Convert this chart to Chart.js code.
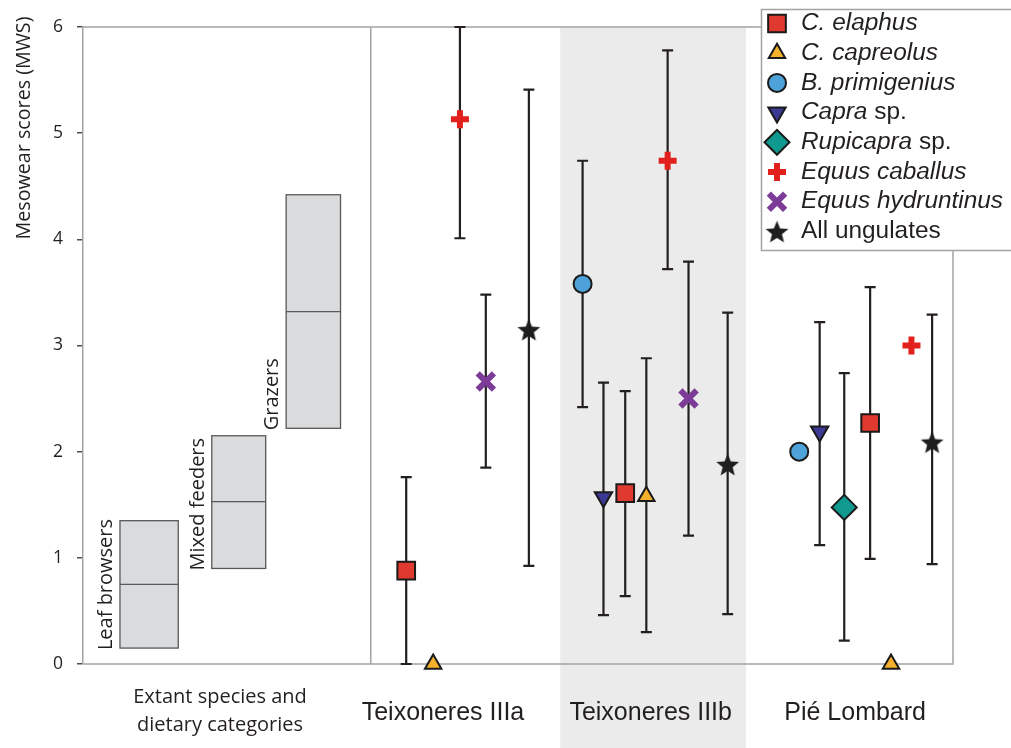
<!DOCTYPE html>
<html>
<head>
<meta charset="utf-8">
<title>Mesowear scores</title>
<script src="https://cdn.jsdelivr.net/npm/chart.js"></script>
<style>
  html, body { margin: 0; padding: 0; background: #fff; }
  #wrap { width: 1011px; height: 748px; }
</style>
</head>
<body>
<div id="wrap"><canvas id="mws" width="1011" height="748"></canvas></div>
<script>
// x runs on an arbitrary 0-40 position axis, y is the mesowear score
const yTicks = [0, 1, 2, 3, 4, 5, 6];

const siteNames = ["Teixoneres IIIa", "Teixoneres IIIb", "Pié Lombard"];
const siteLabelX = [16.55, 26.1, 35.5];
const siteStart = [13.23, 21.94, 30.48];

// extant reference categories (boxes)
const extantNames = ["Leaf browsers", "Mixed feeders", "Grazers"];
const extantFrom = [1.70, 5.92, 9.34];
const extantTo = [4.38, 8.40, 11.84];
const extantLow = [0.15, 0.90, 2.22];
const extantMid = [0.75, 1.53, 3.32];
const extantHigh = [1.35, 2.15, 4.42];
const extantTitle = ["Extant species and", "dietary categories"];
const extantTitleX = 6.3;

// fossil taxa: position, mean, lower / upper whisker (null = no bar)
const elaphusX = [14.86, 24.93, 36.19];
const elaphusMean = [0.88, 1.61, 2.27];
const elaphusLow = [0, 0.64, 0.99];
const elaphusHigh = [1.76, 2.57, 3.55];

const capreolusX = [16.1, 25.9, 37.15];
const capreolusMean = [0, 1.58, 0];
const capreolusLow = [null, 0.30, null];
const capreolusHigh = [null, 2.88, null];

const primigeniusX = [22.97, 32.93];
const primigeniusMean = [3.58, 2.0];
const primigeniusLow = [2.42, null];
const primigeniusHigh = [4.74, null];

const capraX = [23.93, 33.87];
const capraMean = [1.57, 2.19];
const capraLow = [0.46, 1.12];
const capraHigh = [2.65, 3.22];

const rupicapraX = [35.0];
const rupicapraMean = [1.475];
const rupicapraLow = [0.22];
const rupicapraHigh = [2.74];

const caballusX = [17.33, 26.88, 38.09];
const caballusMean = [5.13, 4.74, 3.0];
const caballusLow = [4.01, 3.72, null];
const caballusHigh = [6.0, 5.78, null];

const hydruntinusX = [18.52, 27.84];
const hydruntinusMean = [2.66, 2.50];
const hydruntinusLow = [1.85, 1.21];
const hydruntinusHigh = [3.48, 3.79];

const allX = [20.5, 29.64, 39.04];
const allMean = [3.15, 1.88, 2.09];
const allLow = [0.925, 0.47, 0.94];
const allHigh = [5.41, 3.31, 3.29];

const ink = "#231f20";
const frameGrey = "#a3a3a3";

function makeStar(size, color) {
    const c = document.createElement("canvas");
    c.width = size;
    c.height = size;
    const g = c.getContext("2d");
    const outer = size / 2 - 0.5;
    const inner = outer * 0.44;
    const cx = size / 2, cy = size / 2 + outer * 0.1;
    g.beginPath();
    for (let k = 0; k < 10; k++) {
        const r = k % 2 ? inner : outer;
        const a = -Math.PI / 2 + (k * Math.PI) / 5;
        g.lineTo(cx + r * Math.cos(a), cy + r * Math.sin(a));
    }
    g.closePath();
    g.fillStyle = color;
    g.fill();
    return c;
}

const taxa = [
    { italic: "C. elaphus", plain: "", x: elaphusX, mean: elaphusMean, low: elaphusLow, high: elaphusHigh,
      style: "rect", radius: 12.5, rotation: 0, fill: "#e0392f", stroke: "#1a1a1a", bw: 2 },
    { italic: "C. capreolus", plain: "", x: capreolusX, mean: capreolusMean, low: capreolusLow, high: capreolusHigh,
      style: "triangle", radius: 9.5, rotation: 0, fill: "#f5b02e", stroke: "#1a1a1a", bw: 2 },
    { italic: "B. primigenius", plain: "", x: primigeniusX, mean: primigeniusMean, low: primigeniusLow, high: primigeniusHigh,
      style: "circle", radius: 9, rotation: 0, fill: "#4da3d9", stroke: "#1a1a1a", bw: 2 },
    { italic: "Capra", plain: " sp.", x: capraX, mean: capraMean, low: capraLow, high: capraHigh,
      style: "triangle", radius: 10, rotation: 180, fill: "#3c3a94", stroke: "#1a1a1a", bw: 2 },
    { italic: "Rupicapra", plain: " sp.", x: rupicapraX, mean: rupicapraMean, low: rupicapraLow, high: rupicapraHigh,
      style: "rectRot", radius: 12.5, rotation: 0, fill: "#10998f", stroke: "#1a1a1a", bw: 2 },
    { italic: "Equus caballus", plain: "", x: caballusX, mean: caballusMean, low: caballusLow, high: caballusHigh,
      style: "cross", radius: 9, rotation: 0, fill: "#e2211c", stroke: "#e2211c", bw: 6 },
    { italic: "Equus hydruntinus", plain: "", x: hydruntinusX, mean: hydruntinusMean, low: hydruntinusLow, high: hydruntinusHigh,
      style: "crossRot", radius: 11.5, rotation: 0, fill: "#7b3b96", stroke: "#7b3b96", bw: 6 },
    { italic: "", plain: "All ungulates", x: allX, mean: allMean, low: allLow, high: allHigh,
      style: makeStar(25, "#1e1e1e"), radius: 11, rotation: 0, fill: "#1e1e1e", stroke: "#1e1e1e", bw: 0 },
];

// shading, frame, extant boxes and whiskers go under the markers
const backdrop = {
    id: "backdrop",
    beforeDatasetsDraw(chart) {
        const { ctx, chartArea: area, scales: { x, y } } = chart;
        ctx.save();

        // shaded Teixoneres IIIb block
        const s0 = x.getPixelForValue(siteStart[1]);
        const s1 = x.getPixelForValue(siteStart[2]);
        ctx.fillStyle = "#ebebeb";
        ctx.fillRect(s0, area.top + 1, s1 - s0, chart.height - area.top);

        // frame + divider
        ctx.strokeStyle = frameGrey;
        ctx.lineWidth = 1.5;
        ctx.beginPath();
        ctx.moveTo(area.left, area.top);
        ctx.lineTo(area.right, area.top);
        ctx.lineTo(area.right, area.bottom);
        ctx.lineTo(area.left, area.bottom);
        const d = x.getPixelForValue(siteStart[0]);
        ctx.moveTo(d, area.top);
        ctx.lineTo(d, area.bottom);
        ctx.stroke();

        // extant boxes
        ctx.font = '20px "Open Sans", sans-serif';
        extantNames.forEach((name, i) => {
            const bx0 = x.getPixelForValue(extantFrom[i]);
            const bx1 = x.getPixelForValue(extantTo[i]);
            const top = y.getPixelForValue(extantHigh[i]);
            const bot = y.getPixelForValue(extantLow[i]);
            const mid = y.getPixelForValue(extantMid[i]);
            ctx.fillStyle = "#d9dbdc";
            ctx.fillRect(bx0, top, bx1 - bx0, bot - top);
            ctx.strokeStyle = "#595959";
            ctx.lineWidth = 1.3;
            ctx.strokeRect(bx0, top, bx1 - bx0, bot - top);
            ctx.beginPath();
            ctx.moveTo(bx0, mid);
            ctx.lineTo(bx1, mid);
            ctx.stroke();

            ctx.save();
            ctx.translate(bx0 - 8, bot + 2);
            ctx.rotate(-Math.PI / 2);
            ctx.fillStyle = ink;
            ctx.textAlign = "left";
            ctx.textBaseline = "alphabetic";
            ctx.fillText(name, 0, 0);
            ctx.restore();
        });

        // whiskers
        ctx.strokeStyle = ink;
        ctx.lineWidth = 2.2;
        taxa.forEach((t) => {
            t.low.forEach((lo, i) => {
                if (lo == null) return;
                const px = x.getPixelForValue(t.x[i]);
                const top = y.getPixelForValue(t.high[i]);
                const bot = y.getPixelForValue(lo);
                ctx.beginPath();
                ctx.moveTo(px, top);
                ctx.lineTo(px, bot);
                ctx.moveTo(px - 5.5, top);
                ctx.lineTo(px + 5.5, top);
                ctx.moveTo(px - 5.5, bot);
                ctx.lineTo(px + 5.5, bot);
                ctx.stroke();
            });
        });
        ctx.restore();
    },
    afterDraw(chart) {
        const { ctx, chartArea: area, scales: { x } } = chart;
        ctx.save();
        ctx.fillStyle = ink;
        ctx.textBaseline = "middle";

        // y title
        ctx.save();
        ctx.translate(24, 128);
        ctx.rotate(-Math.PI / 2);
        ctx.textAlign = "center";
        ctx.font = '19.7px "Open Sans", sans-serif';
        ctx.fillText("Mesowear scores (MWS)", 0, 0);
        ctx.restore();

        // group labels under the axis
        ctx.textAlign = "center";
        ctx.font = '25px "Liberation Sans", Arial, sans-serif';
        siteNames.forEach((n, i) => ctx.fillText(n, x.getPixelForValue(siteLabelX[i]), area.bottom + 49));
        ctx.font = '20px "Open Sans", sans-serif';
        extantTitle.forEach((line, i) => ctx.fillText(line, x.getPixelForValue(extantTitleX), area.bottom + 33 + i * 28.5));

        // legend box
        const lx = 761.5, ly = 9.5, lw = 270, lh = 241;
        ctx.fillStyle = "#fff";
        ctx.fillRect(lx, ly, lw, lh);
        ctx.strokeStyle = frameGrey;
        ctx.lineWidth = 1.5;
        ctx.strokeRect(lx, ly, lw, lh);
        taxa.forEach((t, i) => {
            const ry = ly + 14 + i * 29.7;
            ctx.save();
            ctx.fillStyle = t.fill;
            ctx.strokeStyle = t.stroke;
            ctx.lineWidth = t.bw;
            Chart.helpers.drawPoint(ctx, { pointStyle: t.style, radius: t.radius, rotation: t.rotation, borderWidth: t.bw }, lx + 15.5, ry);
            ctx.restore();
            let tx = lx + 39.5;
            ctx.fillStyle = ink;
            ctx.textAlign = "left";
            if (t.italic) {
                ctx.font = 'italic 24.4px "Liberation Sans", Arial, sans-serif';
                ctx.fillText(t.italic, tx, ry);
                tx += ctx.measureText(t.italic).width;
            }
            if (t.plain) {
                ctx.font = '24.4px "Liberation Sans", Arial, sans-serif';
                ctx.fillText(t.plain, tx, ry);
            }
        });
        ctx.restore();
    },
};

new Chart(document.getElementById("mws"), {
    type: "scatter",
    data: {
        datasets: taxa.map((t) => ({
            label: (t.italic + t.plain).trim(),
            data: t.x.map((xv, i) => ({ x: xv, y: t.mean[i] })),
            pointStyle: t.style,
            pointRadius: t.radius,
            pointRotation: t.rotation,
            pointBackgroundColor: t.fill,
            pointBorderColor: t.stroke,
            pointBorderWidth: t.bw,
            clip: false,
        })),
    },
    options: {
        responsive: false,
        animation: false,
        events: [],
        layout: { padding: { left: 0, top: 27, right: 58, bottom: 84 } },
        plugins: { legend: { display: false }, tooltip: { enabled: false } },
        scales: {
            x: { type: "linear", display: false, min: 0, max: 40 },
            y: {
                min: 0,
                max: 6,
                afterFit(scale) {
                    scale.width = 83;
                },
                afterBuildTicks(scale) {
                    scale.ticks = yTicks.map((v) => ({ value: v }));
                },
                ticks: {
                    color: ink,
                    padding: 14,
                    font: { family: '"Open Sans", sans-serif', size: 17.5 },
                },
                grid: {
                    drawOnChartArea: false,
                    drawTicks: true,
                    tickLength: 6,
                    color: "#4d4d4d",
                    lineWidth: 1.5,
                },
                border: { display: true, color: frameGrey, width: 1.5 },
            },
        },
    },
    plugins: [backdrop],
});
</script>
</body>
</html>
